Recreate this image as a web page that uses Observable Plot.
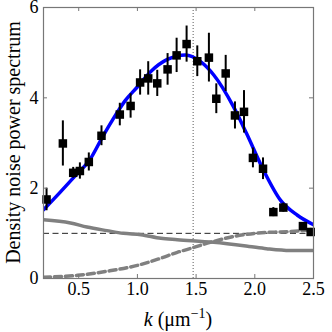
<!DOCTYPE html>
<html>
<head>
<meta charset="utf-8">
<script src="https://cdn.jsdelivr.net/npm/d3@7"></script>
<script src="https://cdn.jsdelivr.net/npm/@observablehq/plot@0.6"></script>
<style>
  html, body { margin: 0; padding: 0; background: white; }
</style>
</head>
<body>
<script>
// Measured spectrum points
const kVals = [0.226, 0.365, 0.453, 0.51, 0.586, 0.694, 0.85, 0.942, 1.023, 1.092, 1.169, 1.257, 1.334, 1.419, 1.51, 1.609, 1.672, 1.752, 1.831, 1.908, 1.984, 2.07, 2.158, 2.243, 2.41, 2.476];
const sVals = [1.75, 2.99, 2.34, 2.38, 2.58, 3.16, 3.63, 3.82, 4.34, 4.43, 4.32, 4.63, 4.94, 5.19, 4.81, 4.89, 3.98, 4.54, 3.61, 3.69, 2.67, 2.43, 1.47, 1.57, 1.16, 1.03];
const sErr  = [0.25, 0.5, 0.12, 0.18, 0.2, 0.22, 0.25, 0.27, 0.28, 0.37, 0.29, 0.35, 0.38, 0.4, 0.34, 0.54, 0.33, 0.4, 0.3, 0.47, 0.22, 0.24, 0.1, 0.1, 0.08, 0.08];

// Fitted curve (blue)
const fitK = [0.2, 0.317, 0.458, 0.6, 0.7, 0.786, 0.899, 0.999, 1.112, 1.255, 1.41, 1.538, 1.652, 1.817, 1.93, 2.07, 2.22, 2.363, 2.5];
const fitS = [1.52, 1.84, 2.24, 2.65, 3.12, 3.5, 3.95, 4.24, 4.58, 4.85, 4.95, 4.8, 4.5, 3.81, 3.21, 2.42, 1.73, 1.4, 1.19];

// Grey solid curve (decreasing)
const solidK = [0.2, 0.43, 0.57, 0.74, 0.88, 1.03, 1.2, 1.34, 1.65, 1.95, 2.1, 2.3, 2.5];
const solidS = [1.3, 1.23, 1.14, 1.06, 1.0, 0.97, 0.89, 0.86, 0.8, 0.71, 0.66, 0.62, 0.62];

// Grey dashed curve (increasing)
const dashK = [0.2, 0.49, 0.74, 1.0, 1.2, 1.34, 1.42, 1.62, 1.82, 2.1, 2.22, 2.5];
const dashS = [0.03, 0.07, 0.16, 0.29, 0.45, 0.58, 0.64, 0.8, 0.93, 1.02, 1.03, 1.08];

// Reference lines
const hLevel = [1];
const vPeak = [1.475];

// Ticks
const xTicks = [0.5, 1.0, 1.5, 2.0, 2.5];
const yTicks = [0, 2, 4, 6];

const points = kVals.map((k, i) => ({k, s: sVals[i], e: sErr[i]}));
const fit = fitK.map((k, i) => ({k, s: fitS[i]}));
const solid = solidK.map((k, i) => ({k, s: solidS[i]}));
const dashed = dashK.map((k, i) => ({k, s: dashS[i]}));

const W = 332, H = 332;
const mL = 43, mR = 19, mT = 7, mB = 54;
const fw = W - mL - mR, fh = H - mT - mB;
const axisColor = "#777";

const chart = Plot.plot({
  width: W, height: H,
  marginLeft: mL, marginRight: mR, marginTop: mT, marginBottom: mB,
  style: {fontFamily: "'Liberation Serif', serif", fontSize: "18px", background: "white", color: "black"},
  x: {domain: [0.2, 2.5]},
  y: {domain: [0, 6]},
  marks: [
    Plot.ruleY(hLevel, {y: d => d, stroke: "#222", strokeWidth: 1, strokeDasharray: "6,3.5"}),
    Plot.ruleX(vPeak, {x: d => d, stroke: "#777", strokeWidth: 1.2, strokeDasharray: "1,2"}),
    Plot.line(solid, {x: "k", y: "s", stroke: "#808080", strokeWidth: 3.5, curve: "monotone-x", clip: true}),
    Plot.line(dashed, {x: "k", y: "s", stroke: "#808080", strokeWidth: 3.5, strokeDasharray: "7,4", curve: "monotone-x", clip: true}),
    Plot.line(fit, {x: "k", y: "s", stroke: "#0000ff", strokeWidth: 3.5, curve: "monotone-x", clip: true}),
    Plot.ruleX(points, {x: "k", y1: d => d.s - d.e, y2: d => d.s + d.e, stroke: "black", strokeWidth: 2}),
    Plot.dot(points, {x: "k", y: "s", symbol: "square", r: 4.8, fill: "black", stroke: "none"}),
    // inward ticks on all four sides
    Plot.tickX(xTicks, {x: d => d, stroke: axisColor, insetTop: fh - 4}),
    Plot.tickX(xTicks, {x: d => d, stroke: axisColor, insetBottom: fh - 4}),
    Plot.tickY(yTicks, {y: d => d, stroke: axisColor, insetRight: fw - 4}),
    Plot.tickY(yTicks, {y: d => d, stroke: axisColor, insetLeft: fw - 4}),
    Plot.axisX({ticks: xTicks, tickFormat: d3.format(".1f"), tickSize: 0, tickPadding: 4, label: null, fontSize: 18}),
    Plot.axisY({ticks: yTicks, tickFormat: d3.format("d"), tickSize: 0, tickPadding: 5, label: null, fontSize: 18}),
    Plot.frame({stroke: axisColor, strokeWidth: 1.2})
  ]
});

document.body.appendChild(chart);

const svg = d3.select(chart);
const xr = chart.scale("x").range;
const yr = chart.scale("y").range;
const cx = (xr[0] + xr[1]) / 2;
const cy = (yr[0] + yr[1]) / 2;

const xl = svg.append("text")
  .attr("x", cx).attr("y", H - 6)
  .attr("text-anchor", "middle")
  .attr("font-family", "'Liberation Serif', serif")
  .attr("font-size", 20)
  .attr("fill", "black");
xl.append("tspan").attr("font-style", "italic").text("k");
xl.append("tspan").text(" (μm");
xl.append("tspan").attr("dy", -8).attr("font-size", 14).text("−1");
xl.append("tspan").attr("dy", 8).text(")");

svg.append("text")
  .attr("transform", `translate(20,${cy}) rotate(-90)`)
  .attr("text-anchor", "middle")
  .attr("font-family", "'Liberation Serif', serif")
  .attr("font-size", 20)
  .attr("fill", "black")
  .text("Density noise power spectrum");
</script>
</body>
</html>
